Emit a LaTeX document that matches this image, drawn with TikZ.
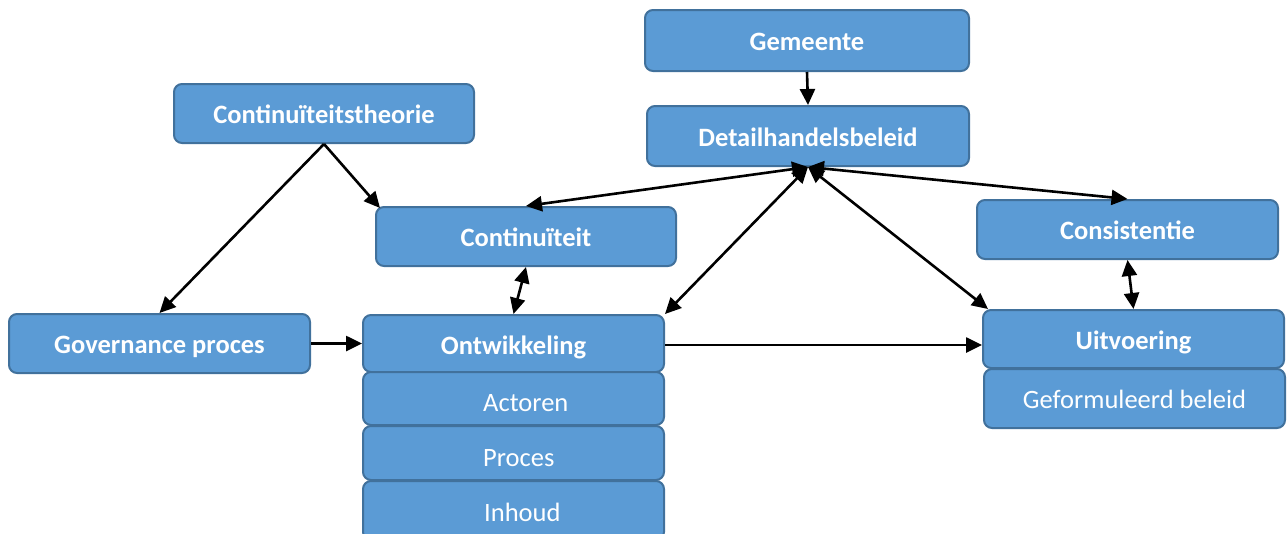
\documentclass[tikz,border=0pt]{standalone}
\usepackage{fontspec}
\setmainfont{Carlito}
\usetikzlibrary{arrows.meta,calc}
\definecolor{boxfill}{HTML}{5B9BD5}
\definecolor{boxline}{HTML}{41719C}
\tikzset{
  box/.style={draw=boxline, fill=boxfill, line width=2pt, rounded corners=8pt,
    text=white, inner sep=0pt, text height=20pt, text depth=0pt,
    font=\fontsize{26.5}{30}\selectfont\bfseries},
  subbox/.style={box, font=\fontsize{26.5}{30}\selectfont},
  subtxt/.style={text=white, inner sep=0pt, anchor=west, text height=20pt, text depth=0pt,
    font=\fontsize{26.5}{30}\selectfont},
  arr/.style={line width=2.6pt, -{Triangle[length=16pt,width=15pt]}},
  dbl/.style={line width=2.6pt, {Triangle[length=16pt,width=15pt]}-{Triangle[length=16pt,width=15pt]}},
}
\begin{document}
\begin{tikzpicture}[x=1pt,y=-1pt]
\useasboundingbox (0,0) rectangle (1288,533);
\node[box, minimum width=324pt, minimum height=61pt] (gem) at (807,40.5) {Gemeente};
\node[box, minimum width=322pt, minimum height=60pt] (dh) at (808,136) {Detailhandelsbeleid};
\node[box, minimum width=300pt, minimum height=59pt] (ctt) at (324,113.5) {Continuïteitstheorie};
\node[box, minimum width=300pt, minimum height=59pt] (cont) at (526,236.5) {Continuïteit};
\node[box, minimum width=301pt, minimum height=59pt] (cons) at (1127.5,229.5) {Consistentie};
\node[box, minimum width=301pt, minimum height=59pt] (gov) at (159.5,343.5) {Governance proces};
\node[box, minimum width=301pt, minimum height=57pt, text height=22pt] (ont) at (513.5,343.5) {Ontwikkeling};
\node[subbox, minimum width=301pt, minimum height=53pt] (act) at (513.5,398.5) {};
\node[subbox, minimum width=301pt, minimum height=54pt] (proc) at (513.5,453) {};
\node[subbox, minimum width=301pt, minimum height=59pt] (inh) at (513.5,510.5) {};
\node[subtxt] (acttxt) at ($(act.west)+(121,3)$) {Actoren};
\node[subtxt] (proctxt) at ($(proc.west)+(121,3)$) {Proces};
\node[subtxt] (inhtxt) at (484,511) {Inhoud};
\node[box, minimum width=301pt, minimum height=58pt] (uit) at (1133.5,339) {Uitvoering};
\node[subbox, minimum width=301pt, minimum height=59pt] (gef) at (1134.5,398.5) {Geformuleerd beleid};

\coordinate (ct) at (ctt.south);
\coordinate (dhp) at (dh.south);

\draw[arr] (gem.south) -- (dh.north);
\draw[arr] (ct) -- ($(cont.north west)+(5,2)$);
\draw[arr] (ct) -- (gov.north);
\draw[arr] (gov.east) -- (ont.west);
\draw[dbl] (cont.south) -- (ont.north);
\draw[dbl] (dhp) -- (cont.north);
\draw[dbl] (dhp) -- (ont.north east);
\draw[dbl] (dhp) -- ($(uit.north west)+(6,0)$);
\draw[dbl] (dhp) -- (cons.north);
\draw[dbl] (cons.south) -- (uit.north);
\draw[arr] ($(ont.east)+(0,1.5)$) -- ($(ont.east -| uit.west)+(0,1.5)$);
\end{tikzpicture}
\end{document}
